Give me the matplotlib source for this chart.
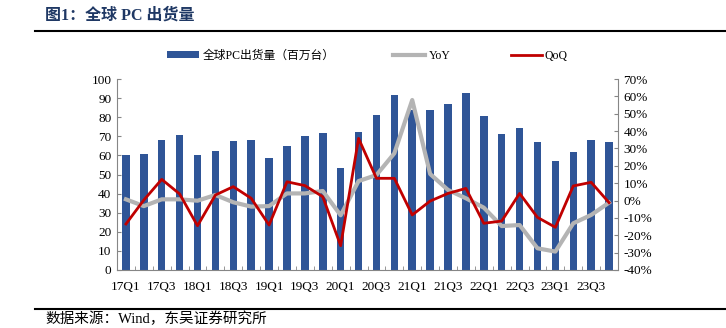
import matplotlib
matplotlib.use("Agg")
import matplotlib.pyplot as plt
import numpy as np
from matplotlib.lines import Line2D
from matplotlib.patches import Patch

plt.rcParams['font.family'] = ['Liberation Serif', 'Noto Sans CJK SC']

quarters = [f"{y}Q{q}" for y in range(17, 24) for q in range(1, 5)]
shipments = [60.2, 60.6, 67.9, 70.5, 60.2, 62.3, 67.4, 68.1, 58.5, 64.7, 70.3, 71.9,
             53.2, 72.3, 81.2, 91.6, 83.8, 83.6, 86.7, 92.7, 80.5, 71.2, 74.2, 67.2,
             56.9, 61.6, 68.1, 67.0]
yoy = [0.7, -3.2, 0.7, 0.7, -0.1, 3.2, -1.0, -3.5, -3.2, 4.1, 4.1, 5.5,
       -8.5, 11.2, 14.7, 27.2, 57.9, 15.3, 6.1, 1.3, -4.1, -14.7, -14.1, -27.5,
       -29.4, -13.1, -8.3, -1.2]
qoq = [-13.5, 0.3, 12.2, 3.8, -14.5, 3.2, 8.0, 1.3, -14.1, 10.8, 8.6, 2.2,
       -26.0, 35.8, 12.8, 12.8, -8.3, -0.3, 4.1, 7.0, -13.1, -11.8, 4.1, -9.7,
       -15.4, 8.4, 10.5, -1.2]
left_ticks = list(range(0, 101, 10))
right_ticks = list(range(-40, 71, 10))

W, H = 726, 328
fig = plt.figure(figsize=(W / 100, H / 100), dpi=100)
ax = fig.add_axes([117 / W, 1 - 270 / H, (618 - 117) / W, (270 - 79) / H])
ax2 = ax.twinx()

x = np.arange(len(quarters))
bar_c = '#2F5597'
ax.bar(x, shipments, width=0.42, color=bar_c, zorder=2)
ax.set_xlim(-0.5, len(quarters) - 0.5)
ax.set_ylim(0, 100)
ax.set_yticks(left_ticks)
ax.set_yticklabels([str(v) for v in left_ticks])

ax2.plot(x, yoy, color='#B4B4B4', lw=3.0, zorder=3, solid_joinstyle='round')
ax2.plot(x, qoq, color='#C00000', lw=2.0, zorder=4)
ax2.set_ylim(-40, 70)
ax2.set_yticks(right_ticks)
ax2.set_yticklabels([f"{v}%" for v in right_ticks])

ax.set_xticks(x[::2])
ax.set_xticklabels(quarters[::2])
ax.set_xticks(np.arange(-0.5, len(quarters), 1), minor=True)

axis_c = '#868686'
for a in (ax, ax2):
    for s in a.spines.values():
        s.set_color(axis_c)
        s.set_linewidth(0.8)
    a.spines['top'].set_visible(False)
ax.spines['right'].set_visible(False)
ax2.spines['left'].set_visible(False)
ax2.spines['bottom'].set_visible(False)

ax.tick_params(axis='x', which='major', length=0, labelsize=9.5, pad=8, colors='black')
ax.tick_params(axis='x', which='minor', length=3, direction='in', color=axis_c)
ax.tick_params(axis='y', length=3, direction='in', color=axis_c, labelsize=9.5, pad=4)
ax2.tick_params(axis='y', length=3, direction='in', color=axis_c, labelsize=9.5, pad=4)

# legend (three entries placed individually)
handles = [Patch(facecolor=bar_c, edgecolor='none'),
           Line2D([0], [0], color='#B4B4B4', lw=3),
           Line2D([0], [0], color='#C00000', lw=2)]
labels = ['全球PC出货量（百万台）', 'YoY', 'QoQ']
starts = [167, 393, 511]
hlens = [2.75, 2.75, 2.6]
for h, lab, xs, hl in zip(handles, labels, starts, hlens):
    fig.legend([h], [lab], loc='center left', bbox_to_anchor=(xs / W, 1 - 56 / H),
               frameon=False, fontsize=8.5, handlelength=hl, handleheight=0.55,
               handletextpad=0.25, borderpad=0, borderaxespad=0)

# title and rules
fig.text(45 / W, 1 - 16 / H, '图1：全球 PC 出货量', fontsize=11.5, fontweight='bold',
         color='#1F3864', va='center', ha='left')
fig.add_artist(Line2D([35 / W, 1.0], [1 - 31 / H, 1 - 31 / H], color='black', lw=1.5))
fig.add_artist(Line2D([35 / W, 1.0], [1 - 309 / H, 1 - 309 / H], color='black', lw=1.5))
fig.text(45 / W, 1 - 319 / H, '数据来源：Wind，东吴证券研究所', fontsize=10.5,
         color='black', va='center', ha='left')

fig.savefig('out.png', dpi=100)
